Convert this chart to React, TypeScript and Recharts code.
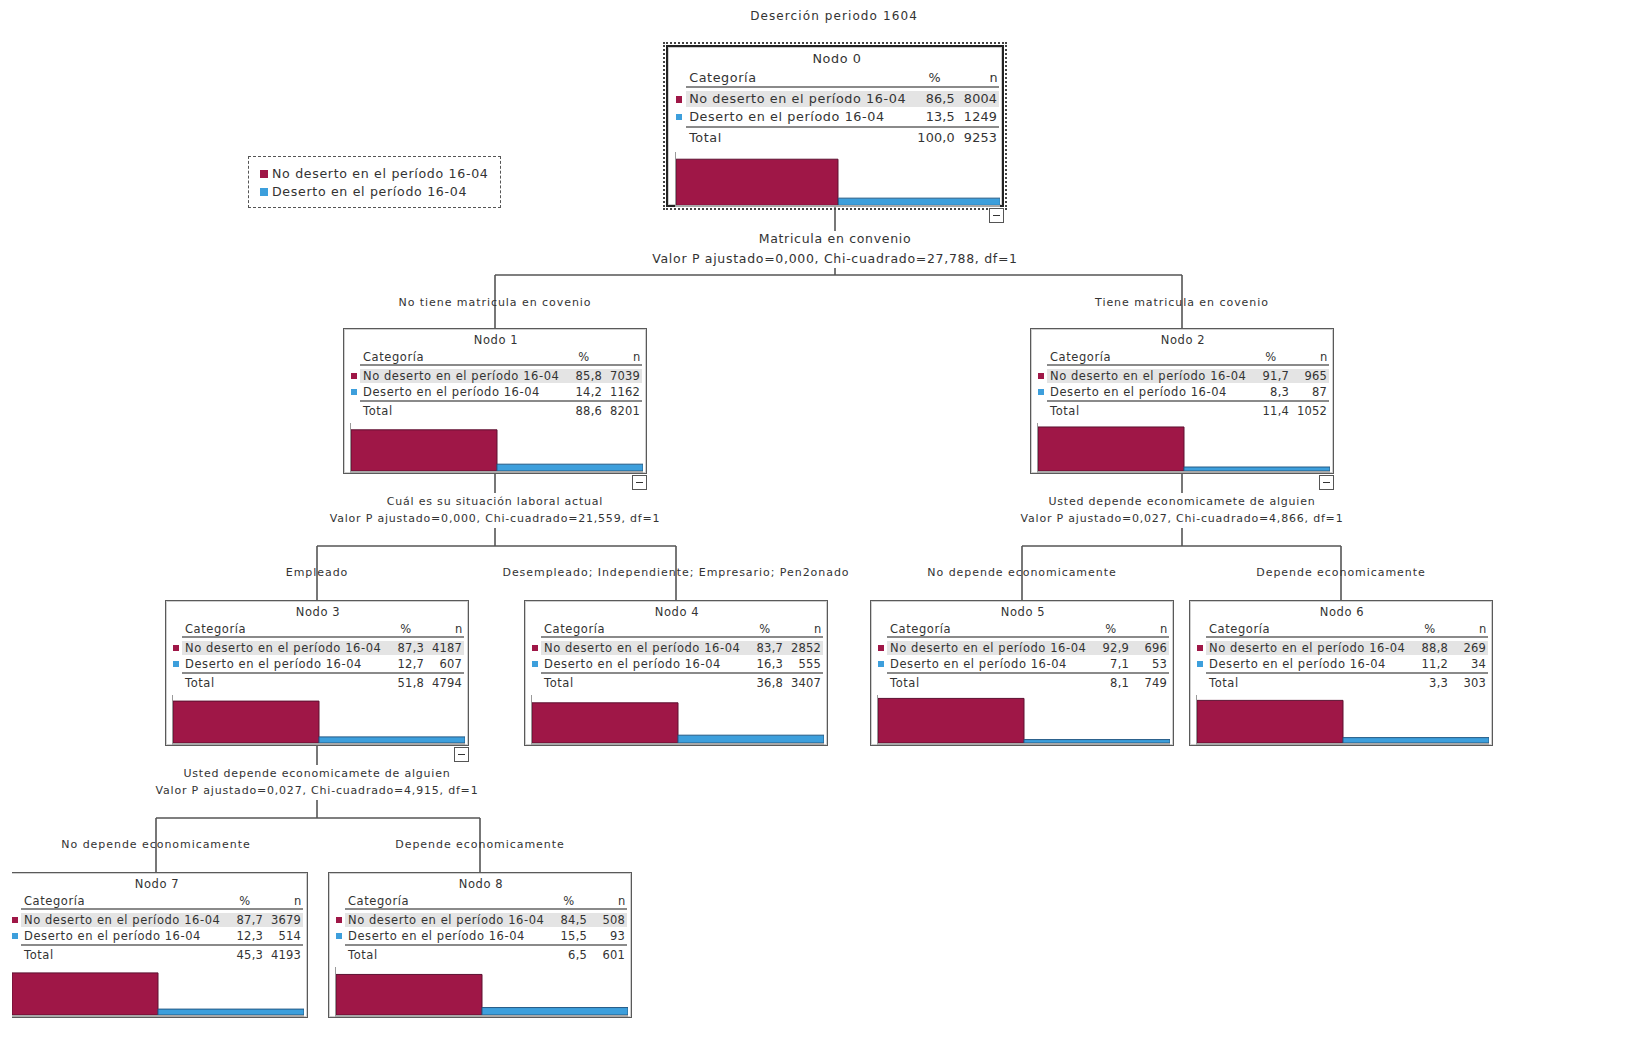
import React from "react"
import { BarChart, Bar, XAxis, YAxis, Cell } from "recharts"

const categories = ["No deserto en el período 16-04", "Deserto en el período 16-04"]
const pctNoDeserto = [86.5, 85.8, 91.7, 87.3, 83.7, 92.9, 88.8, 87.7, 84.5]
const pctDeserto = [13.5, 14.2, 8.3, 12.7, 16.3, 7.1, 11.2, 12.3, 15.5]
const nNoDeserto = [8004, 7039, 965, 4187, 2852, 696, 269, 3679, 508]
const nDeserto = [1249, 1162, 87, 607, 555, 53, 34, 514, 93]
const totalPct = [100.0, 88.6, 11.4, 51.8, 36.8, 8.1, 3.3, 45.3, 6.5]
const totalN = [9253, 8201, 1052, 4794, 3407, 749, 303, 4193, 601]

const splitVariables = [
  "Matricula en convenio",
  "Cuál es su situación laboral actual",
  "Usted depende economicamete de alguien",
  "Usted depende economicamete de alguien",
]
const splitStats = [
  "Valor P ajustado=0,000, Chi-cuadrado=27,788, df=1",
  "Valor P ajustado=0,000, Chi-cuadrado=21,559, df=1",
  "Valor P ajustado=0,027, Chi-cuadrado=4,866, df=1",
  "Valor P ajustado=0,027, Chi-cuadrado=4,915, df=1",
]
const edgeLabels = [
  "No tiene matricula en covenio",
  "Tiene matricula en covenio",
  "Empleado",
  "Desempleado; Independiente; Empresario; Pen2onado",
  "No depende economicamente",
  "Depende economicamente",
  "No depende economicamente",
  "Depende economicamente",
]

const MAROON = "#9f1747"
const BLUE = "#3d9fdc"
const FONT = "'DejaVu Sans', Verdana, sans-serif"
const INK = "#333"

// layout (page px)
const NODE_W = 304
const NODE_H = 146
const pos = [
  { x: 666, y: 45, s: 338 / 304 },
  { x: 343, y: 328, s: 1 },
  { x: 1030, y: 328, s: 1 },
  { x: 165, y: 600, s: 1 },
  { x: 524, y: 600, s: 1 },
  { x: 870, y: 600, s: 1 },
  { x: 1189, y: 600, s: 1 },
  { x: 4, y: 872, s: 1 },
  { x: 328, y: 872, s: 1 },
]
// parent, children, text rows y, horizontal y, label y
const splits = [
  { p: 0, kids: [1, 2], stopY: 231, t1: 239, t2: 259, resume: 268, hy: 275, ly: 303, fs: 12.5, sp: 0.7 },
  { p: 1, kids: [3, 4], stopY: 493, t1: 502, t2: 519, resume: 528, hy: 546, ly: 573, fs: 11, sp: 0.8 },
  { p: 2, kids: [5, 6], stopY: 493, t1: 502, t2: 519, resume: 528, hy: 546, ly: 573, fs: 11, sp: 0.8 },
  { p: 3, kids: [7, 8], stopY: 765, t1: 774, t2: 791, resume: 800, hy: 818, ly: 845, fs: 11, sp: 0.8 },
]

const fmt = (v: number) => v.toFixed(1).replace(".", ",")
const cx = (i: number) => pos[i].x + (NODE_W * pos[i].s) / 2
const bottom = (i: number) => pos[i].y + NODE_H * pos[i].s

function Txt({ x, y, size, align = "left", children, weight = 400, spacing = 0.57 }: any) {
  const lh = size * 1.3
  const base: React.CSSProperties = {
    position: "absolute",
    top: y - lh / 2,
    lineHeight: `${lh}px`,
    fontSize: size,
    fontFamily: FONT,
    color: INK,
    whiteSpace: "nowrap",
    letterSpacing: spacing,
    fontWeight: weight,
  }
  if (align === "left") return <div style={{ ...base, left: x }}>{children}</div>
  if (align === "right") return <div style={{ ...base, left: x - 400, width: 400, textAlign: "right" }}>{children}</div>
  return <div style={{ ...base, left: x - 400, width: 800, textAlign: "center" }}>{children}</div>
}

function Rule({ x1, x2, y, c = "#8a8a8a", t = 2 }: any) {
  return <div style={{ position: "absolute", left: x1, top: y, width: x2 - x1, height: t, background: c }} />
}

function TreeNode({ i }: { i: number }) {
  const { x, y, s } = pos[i]
  const w = NODE_W * s
  const h = NODE_H * s
  const k = (v: number) => v * s
  const fs = 11.5 * s
  const data = [
    { cat: categories[0], pct: pctNoDeserto[i] },
    { cat: categories[1], pct: pctDeserto[i] },
  ]
  const root = i === 0
  const ls = root ? 0.6 : 0.57
  return (
    <div
      style={{
        position: "absolute",
        left: x,
        top: y,
        width: w,
        height: h,
        boxSizing: "border-box",
        background: "#fff",
        border: root ? "2px solid #222" : "1px solid #5a5a5a",
        boxShadow: "inset 0 0 0 1px #cfcfcf",
        outline: root ? "2px dotted #444" : undefined,
        outlineOffset: root ? 1 : undefined,
      }}
    >
      <Txt x={w / 2} y={k(11)} size={fs} align="center" spacing={ls}>{`Nodo ${i}`}</Txt>
      <Txt x={k(19)} y={k(28)} size={fs} spacing={ls}>Categoría</Txt>
      <Txt x={k(240)} y={k(28)} size={fs} align="center">%</Txt>
      <Txt x={k(293)} y={k(28)} size={fs} align="center">n</Txt>
      <Rule x1={k(16)} x2={k(298)} y={k(35)} />
      <div style={{ position: "absolute", left: k(16), top: k(40), width: k(282), height: k(14), background: "#e4e4e4" }} />
      <div style={{ position: "absolute", left: k(7), top: k(44), width: k(6), height: k(6), background: MAROON }} />
      <Txt x={k(19)} y={k(47)} size={fs} spacing={ls}>{categories[0]}</Txt>
      <Txt x={k(258)} y={k(47)} size={fs} align="right" spacing={0.2}>{fmt(pctNoDeserto[i])}</Txt>
      <Txt x={k(296)} y={k(47)} size={fs} align="right" spacing={0.2}>{nNoDeserto[i]}</Txt>
      <div style={{ position: "absolute", left: k(7), top: k(60), width: k(6), height: k(6), background: BLUE }} />
      <Txt x={k(19)} y={k(63)} size={fs} spacing={ls}>{categories[1]}</Txt>
      <Txt x={k(258)} y={k(63)} size={fs} align="right" spacing={0.2}>{fmt(pctDeserto[i])}</Txt>
      <Txt x={k(296)} y={k(63)} size={fs} align="right" spacing={0.2}>{nDeserto[i]}</Txt>
      <Rule x1={k(16)} x2={k(298)} y={k(71)} />
      <Txt x={k(19)} y={k(82)} size={fs} spacing={ls}>Total</Txt>
      <Txt x={k(258)} y={k(82)} size={fs} align="right" spacing={0.2}>{fmt(totalPct[i])}</Txt>
      <Txt x={k(296)} y={k(82)} size={fs} align="right" spacing={0.2}>{totalN[i]}</Txt>
      <div
        style={{
          position: "absolute",
          left: k(6),
          top: k(94),
          borderLeft: "1px solid #9a9a9a",
          borderBottom: "2px solid #a8a8a8",
        }}
      >
        <BarChart
          width={k(292)}
          height={k(48)}
          data={data}
          margin={{ top: 0, right: 0, bottom: 0, left: 0 }}
          barCategoryGap={0}
          barGap={0}
        >
          <XAxis dataKey="cat" hide />
          <YAxis hide domain={[0, 100]} />
          <Bar dataKey="pct" isAnimationActive={false}>
            {data.map((d, j) => (
              <Cell key={d.cat} fill={j === 0 ? MAROON : BLUE} stroke={j === 0 ? "#5c1030" : "#245a85"} strokeWidth={1} />
            ))}
          </Bar>
        </BarChart>
      </div>
    </div>
  )
}

function Collapse({ i }: { i: number }) {
  const { x, s } = pos[i]
  const right = x + NODE_W * s
  return (
    <div
      style={{
        position: "absolute",
        left: right - 15,
        top: bottom(i) + 1,
        width: 13,
        height: 13,
        border: "1px solid #555",
        background: "#fff",
      }}
    >
      <div style={{ position: "absolute", left: 3, top: 6, width: 7, height: 1, background: "#333" }} />
    </div>
  )
}

export default function App() {
  let li = 0
  const labelNodes: any[] = []
  splits.forEach((sp) => {
    sp.kids.forEach((kid) => {
      labelNodes.push(
        <Txt key={`l${li}`} x={cx(kid)} y={sp.ly} size={11} align="center" spacing={0.95}>
          {edgeLabels[li]}
        </Txt>
      )
      li++
    })
  })
  return (
    <div style={{ position: "relative", width: 1629, height: 1038, margin: -8, background: "#fff", overflow: "hidden" }}>
      <svg width={1629} height={1038} style={{ position: "absolute", left: 0, top: 0 }}>
        {splits.map((sp, si) => {
          const px = cx(sp.p)
          const xs = sp.kids.map(cx)
          return (
            <g key={si} stroke="#555" strokeWidth={1.6}>
              <line x1={px} y1={bottom(sp.p)} x2={px} y2={sp.stopY} />
              <line x1={px} y1={sp.resume} x2={px} y2={sp.hy} />
              <line x1={Math.min(...xs)} y1={sp.hy} x2={Math.max(...xs)} y2={sp.hy} />
              {sp.kids.map((kid) => (
                <line key={kid} x1={cx(kid)} y1={sp.hy} x2={cx(kid)} y2={pos[kid].y} />
              ))}
            </g>
          )
        })}
      </svg>

      <Txt x={834} y={17} size={12} align="center" spacing={1.1}>Deserción periodo 1604</Txt>

      <div
        style={{
          position: "absolute",
          left: 248,
          top: 156,
          width: 253,
          height: 52,
          boxSizing: "border-box",
          border: "1.5px dashed #555",
        }}
      >
        <div style={{ position: "absolute", left: 11, top: 13, width: 8, height: 8, background: MAROON }} />
        <Txt x={23} y={17} size={12.6} spacing={0.67}>{categories[0]}</Txt>
        <div style={{ position: "absolute", left: 11, top: 31, width: 8, height: 8, background: BLUE }} />
        <Txt x={23} y={35} size={12.6} spacing={0.67}>{categories[1]}</Txt>
      </div>

      {splits.map((sp, si) => (
        <React.Fragment key={`s${si}`}>
          <Txt x={cx(sp.p)} y={sp.t1} size={sp.fs} align="center" spacing={sp.sp}>{splitVariables[si]}</Txt>
          <Txt x={cx(sp.p)} y={sp.t2} size={sp.fs} align="center" spacing={sp.sp}>{splitStats[si]}</Txt>
        </React.Fragment>
      ))}
      {labelNodes}

      {[0, 1, 2, 3, 4, 5, 6, 8].map((i) => (
        <TreeNode key={i} i={i} />
      ))}
      <div style={{ position: "absolute", left: 12, top: 860, width: 320, height: 170, overflow: "hidden" }}>
        <div style={{ position: "absolute", left: -12, top: -860 }}>
          <TreeNode i={7} />
        </div>
      </div>
      {[0, 1, 2, 3].map((i) => (
        <Collapse key={`c${i}`} i={i} />
      ))}
    </div>
  )
}
